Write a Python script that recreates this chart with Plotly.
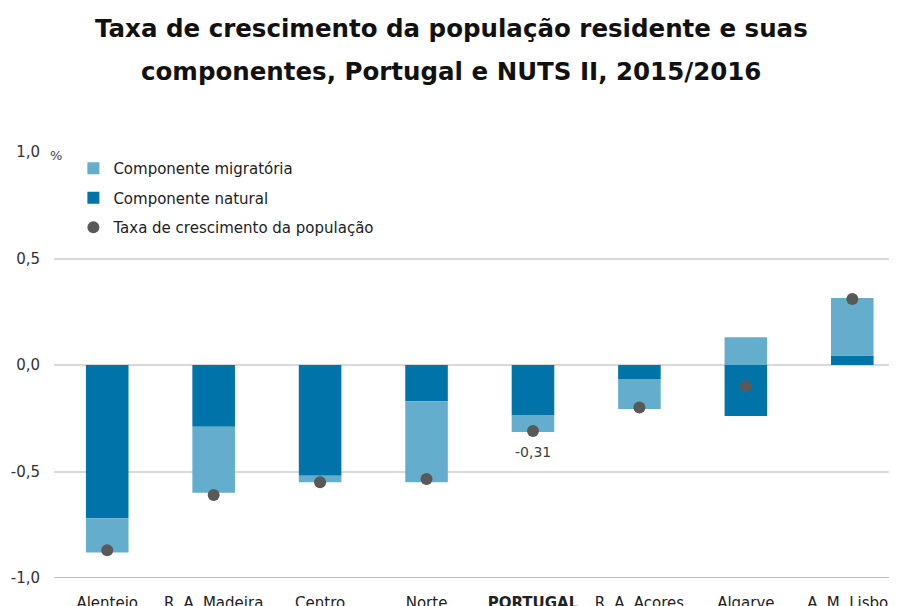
import plotly.graph_objects as go

categories = ["Alentejo", "R. A. Madeira", "Centro", "Norte", "PORTUGAL",
              "R. A. Acores", "Algarve", "A. M. Lisboa"]
tick_labels = ["Alentejo", "R. A. Madeira", "Centro", "Norte", "<b>PORTUGAL</b>",
               "R. A. Acores", "Algarve", "A. M. Lisboa"]
natural = [-0.72, -0.29, -0.52, -0.17, -0.235, -0.066, -0.24, 0.045]
migratoria = [-0.16, -0.31, -0.03, -0.38, -0.08, -0.14, 0.13, 0.27]
taxa = [-0.87, -0.61, -0.55, -0.535, -0.31, -0.20, -0.10, 0.31]
title_lines = ["Taxa de crescimento da população residente e suas",
               "componentes, Portugal e NUTS II, 2015/2016"]

C_NAT = "#0074A9"
C_MIG = "#65ADCC"
C_DOT = "#595959"
FONT = "DejaVu Sans, Liberation Sans, Arial, sans-serif"

fig = go.Figure()
fig.add_trace(go.Bar(x=categories, y=natural, name="Componente natural",
                     marker=dict(color=C_NAT, line=dict(width=0)), width=0.4,
                     legendrank=2, legendgroup="b"))
fig.add_trace(go.Bar(x=categories, y=migratoria, name="Componente migratória",
                     marker=dict(color=C_MIG, line=dict(width=0)), width=0.4,
                     legendrank=1, legendgroup="a"))
fig.add_trace(go.Scatter(x=categories, y=taxa, mode="markers",
                         name="Taxa de crescimento da população",
                         marker=dict(color=C_DOT, size=12), legendrank=3,
                         legendgroup="c"))

fig.add_annotation(x="PORTUGAL", y=taxa[4], text="-0,31", showarrow=False,
                   yshift=-21, font=dict(size=14, color="#404040"))
fig.add_annotation(xref="paper", yref="y", x=0, y=1.0, text="%", showarrow=False,
                   xanchor="left", xshift=-6, yshift=-3,
                   font=dict(size=13, color="#404040"))
for i, (line, ypx) in enumerate(zip(title_lines, [28, 72])):
    fig.add_annotation(xref="paper", yref="paper", x=(451 - 54) / 843,
                       y=(578 - ypx) / 426, text="<b>" + line + "</b>",
                       showarrow=False, xanchor="center", yanchor="middle",
                       font=dict(size=24.5, color="#111111", family=FONT))

fig.update_layout(
    width=897, height=606,
    barmode="relative",
    paper_bgcolor="white", plot_bgcolor="white",
    margin=dict(l=46, r=8, t=144, b=36),
    font=dict(family=FONT, size=14, color="#222222"),
    legend=dict(x=0.023, y=1.0, xanchor="left", yanchor="top",
                bgcolor="rgba(0,0,0,0)", font=dict(size=15, color="#222222"),
                tracegroupgap=7, itemwidth=30, itemsizing="constant",
                traceorder="grouped"),
    showlegend=True,
)
fig.update_xaxes(range=[-0.5, 7.42], tickvals=categories, ticktext=tick_labels,
                 showgrid=False, ticks="outside", ticklen=11, tickcolor="rgba(0,0,0,0)",
                 showline=False, automargin=False,
                 tickfont=dict(size=15, color="#222222"))
fig.update_yaxes(range=[-1.0, 1.0], tickvals=[-1, -0.5, 0, 0.5, 1],
                 ticktext=["-1,0", "-0,5", "0,0", "0,5", "1,0"],
                 showgrid=True, gridcolor="#D9D9D9", gridwidth=1.5,
                 zeroline=True, zerolinecolor="#D9D9D9", zerolinewidth=1.5,
                 ticks="outside", ticklen=10, tickcolor="rgba(0,0,0,0)",
                 automargin=False,
                 tickfont=dict(size=15, color="#333333"))
fig.add_shape(type="line", xref="paper", yref="y", x0=0, x1=1, y0=-1, y1=-1,
              line=dict(color="#BFBFBF", width=2))

fig.write_html("out.html")
